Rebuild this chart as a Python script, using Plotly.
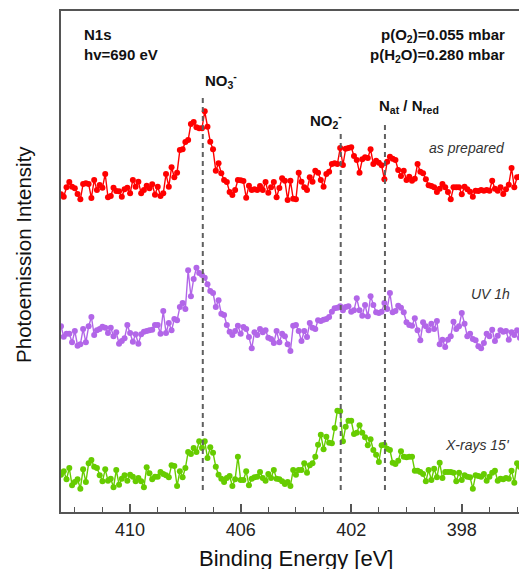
import numpy as np
import plotly.graph_objects as go

# N1s spectra, binding-energy grid starts at 412.5 eV and steps down by 0.1 eV
BE_START = 412.5
BE_STEP = 0.1

# Intensities (arb. units, already vertically stacked for display)
as_prepared = [
    317.7, 315.3, 324.7, 330.0, 325.3, 323.7, 318.0, 312.7, 328.0, 328.7,
    328.0, 314.0, 332.0, 322.0, 327.0, 324.3, 338.0, 314.7, 316.0, 324.3,
    321.0, 320.7, 315.3, 322.7, 324.3, 318.7, 332.0, 325.3, 330.3, 318.7,
    322.0, 326.3, 323.7, 327.7, 317.3, 325.3, 316.0, 318.7, 338.0, 325.3,
    344.7, 334.7, 339.3, 362.0, 362.7, 370.0, 372.0, 388.0, 390.0, 384.7,
    383.7, 383.7, 400.7, 385.3, 370.3, 362.7, 341.3, 348.7, 338.7, 332.0,
    330.0, 320.0, 317.0, 322.0, 332.0, 331.7, 331.0, 314.3, 326.3, 322.0,
    322.7, 322.0, 326.0, 322.0, 330.0, 319.3, 324.7, 330.0, 314.7, 324.0,
    333.7, 331.3, 312.0, 331.3,
    313.3, 312.7, 339.3, 330.3, 324.7, 322.0, 334.7, 330.3, 341.3, 339.3,
    332.0, 325.3, 338.0, 340.3, 348.0, 348.7, 348.0, 364.0, 347.0, 363.3,
    364.0, 364.7, 356.0, 352.0, 339.3, 352.7, 354.7, 354.0, 362.7, 348.0,
    351.3, 349.3, 346.7, 332.7, 350.3, 355.3, 353.3, 352.0, 342.0, 336.0,
    341.3, 332.0, 335.3, 331.3, 333.3, 348.0, 340.3, 338.7, 332.7, 326.7,
    326.0, 324.7, 320.0, 323.3, 328.0, 324.7, 320.0, 312.7, 324.7, 324.7,
    324.7, 317.7, 325.3, 322.7, 320.3, 315.3, 321.3, 321.0, 322.0, 321.3,
    322.0, 321.3, 331.3, 323.3, 321.3, 324.7, 318.0, 322.7, 327.3, 344.0,
    324.7, 334.7, 335.3, 324.7, 332.0,
]

uv_1h = [
    185.7, 175.3, 178.3, 178.3, 169.7, 181.0, 166.3, 167.7, 183.0, 169.7,
    185.7, 195.0, 177.0, 181.7, 183.0, 185.3, 184.3, 179.0, 184.3, 175.7,
    179.7, 168.3, 171.0, 173.7, 187.0, 179.0, 170.3, 177.7, 168.3, 177.7,
    180.3, 181.0, 181.7, 182.3, 187.0, 187.0, 178.3, 201.0, 179.0, 189.0,
    181.7, 193.0, 191.7, 205.0, 209.0, 203.0, 241.7, 215.7, 233.0, 244.3,
    239.0, 237.0, 234.3, 227.7, 221.0, 219.0, 205.0, 211.7, 198.3, 197.0,
    187.0, 180.3, 177.0, 181.0, 186.3, 178.3, 185.0, 183.0, 175.0, 163.7,
    179.7, 177.0, 183.0, 179.7, 181.7, 174.3, 173.0, 169.0, 181.0, 169.7,
    178.3, 175.7, 167.7, 161.0,
    186.3, 187.0, 181.0, 171.0, 181.0, 175.0, 189.0, 184.3, 183.0, 191.7,
    191.0, 192.3, 193.0, 195.0, 200.3, 203.7, 204.3, 205.7, 201.7, 205.0,
    205.7, 200.3, 201.7, 213.7, 201.7, 196.3, 207.0, 195.7, 215.7, 207.0,
    199.7, 199.0, 200.3, 209.0, 203.0, 219.0, 199.7, 201.0, 206.3, 204.3,
    199.7, 189.7, 187.0, 186.3, 193.7, 181.7, 171.7, 189.7, 185.7, 181.7,
    188.3, 183.0, 191.0, 167.7, 172.3, 165.0, 172.3, 175.7, 190.3, 183.0,
    185.7, 199.0, 188.3, 175.7, 178.3, 173.0, 171.7, 165.7, 163.7, 169.0,
    178.3, 175.7, 182.3, 171.0, 176.3, 181.7, 180.3, 181.0, 172.3, 179.7,
    177.0, 181.7, 174.3, 181.0, 179.7,
]

xrays_15 = [
    37.3, 40.7, 32.7, 44.0, 26.7, 30.0, 32.7, 23.3, 42.7, 30.0,
    48.7, 52.0, 45.3, 44.0, 36.7, 30.7, 42.7, 31.3, 33.3, 24.7,
    42.0, 27.3, 33.3, 36.7, 31.3, 37.3, 35.3, 30.7, 34.0, 30.7,
    24.7, 44.7, 38.7, 32.7, 35.3, 35.3, 40.0, 38.0, 36.7, 34.7,
    46.7, 46.0, 26.0, 40.7, 34.7, 44.0, 60.0, 58.0, 64.0, 60.0,
    70.7, 64.0, 70.7, 54.0, 64.7, 59.3, 45.3, 37.3, 33.3, 30.0,
    34.0, 36.0, 26.0, 32.7, 55.3, 32.0, 32.0, 40.7, 26.7, 33.3,
    34.7, 35.3, 40.0, 34.0, 31.3, 38.0, 34.0, 42.0, 33.3, 32.7,
    30.7, 28.0, 30.0, 26.0,
    42.0, 37.3, 42.0, 42.0, 48.7, 39.3, 46.7, 48.7, 55.3, 67.3,
    77.3, 62.7, 75.3, 69.3, 68.7, 84.0, 101.3, 100.7, 70.7, 85.3,
    91.3, 91.3, 78.0, 79.3, 86.7, 79.3, 74.7, 66.7, 72.7, 62.0,
    57.3, 50.0, 66.7, 67.3, 63.3, 62.0, 49.3, 48.0, 51.3, 60.7,
    55.3, 54.7, 55.3, 55.3, 41.3, 41.3, 40.0, 38.0, 30.7, 42.0,
    32.0, 43.3, 34.7, 49.3, 34.0, 40.0, 40.0, 40.0, 39.3, 30.7,
    39.3, 32.0, 36.7, 35.3, 34.7, 23.3, 36.7, 36.0, 35.3, 38.0,
    31.3, 35.3, 39.3, 41.3, 31.3, 33.3, 32.7, 34.0, 33.3, 41.3,
    29.3, 48.7, 45.3, 24.0,
]

series_names = ["as prepared", "UV 1h", "X-rays 15'"]
series_values = [as_prepared, uv_1h, xrays_15]
series_colors = ["#ff0000", "#b266e8", "#66cc00"]
series_label_y = [364, 218, 67]
series_label_x = [396.37, 396.19, 396.19]

# Component positions (eV) marked with dashed guides
peak_names = ["NO<sub>3</sub><sup>-</sup>", "NO<sub>2</sub><sup>-</sup>", "N<sub>at</sub> / N<sub>red</sub>"]
peak_positions = [407.37, 402.38, 400.78]
peak_line_tops = [418, 379, 390]

x_ticks = [410, 406, 402, 398]

FONT = "Liberation Sans, Arial, sans-serif"
AXIS_COLOR = "#555555"

fig = go.Figure()

for name, vals, color in zip(series_names, series_values, series_colors):
    be = BE_START - BE_STEP * np.arange(len(vals))
    fig.add_trace(go.Scatter(
        x=be, y=vals, name=name, mode="lines+markers",
        line=dict(color=color, width=1.4),
        marker=dict(color=color, size=6),
        showlegend=False,
    ))

# dashed guide lines for the N species
for pos, top in zip(peak_positions, peak_line_tops):
    fig.add_shape(type="line", xref="x", yref="y", x0=pos, x1=pos, y0=22, y1=top,
                  line=dict(color="#606060", width=2, dash="5px,4px"))

annotations = [
    dict(x=411.75, y=468, text="<b>N1s<br>hv=690 eV</b>", xanchor="left", align="left"),
    dict(x=396.37, y=477, text="<b>p(O<sub>2</sub>)=0.055 mbar</b>", xanchor="right"),
    dict(x=396.37, y=457, text="<b>p(H<sub>2</sub>O)=0.280 mbar</b>", xanchor="right"),
    dict(x=407.36, y=432, text="<b>" + peak_names[0] + "</b>", xanchor="left"),
    dict(x=402.26, y=392, text="<b>" + peak_names[1] + "</b>", xanchor="right"),
    dict(x=401.05, y=406, text="<b>" + peak_names[2] + "</b>", xanchor="left"),
]
for a in annotations:
    a.update(xref="x", yref="y", yanchor="middle", showarrow=False,
             font=dict(family=FONT, size=15, color="#111111"))
    fig.add_annotation(**a)

for name, lx, ly in zip(series_names, series_label_x, series_label_y):
    fig.add_annotation(x=lx, y=ly, xref="x", yref="y", text="<i>" + name + "</i>",
                       xanchor="right", yanchor="middle", showarrow=False,
                       font=dict(family=FONT, size=14, color="#333333"))

# axis titles
fig.add_annotation(x=0.513, y=-0.092, xref="paper", yref="paper",
                   text="Binding Energy [eV]", showarrow=False,
                   xanchor="center", yanchor="middle",
                   font=dict(family=FONT, size=22, color="#111111"))
fig.add_annotation(x=-0.081, y=0.515, xref="paper", yref="paper",
                   text="Photoemission Intensity", showarrow=False, textangle=-90,
                   xanchor="center", yanchor="middle",
                   font=dict(family=FONT, size=20.5, color="#111111"))

fig.update_layout(
    width=519, height=569,
    margin=dict(l=61, r=0, t=11, b=57),
    paper_bgcolor="white", plot_bgcolor="white",
    font=dict(family=FONT),
    xaxis=dict(
        range=[412.5, 395.93], showgrid=False, zeroline=False,
        showline=True, linecolor=AXIS_COLOR, linewidth=2, mirror=True,
        tickmode="array", tickvals=x_ticks, ticktext=[str(t) for t in x_ticks],
        ticks="inside", ticklen=8, tickwidth=1.5, tickcolor=AXIS_COLOR,
        minor=dict(dtick=1, tick0=410, ticks="inside", ticklen=5, tickwidth=1.2, tickcolor=AXIS_COLOR),
        tickfont=dict(family=FONT, size=18, color="#222222"),
    ),
    yaxis=dict(
        range=[0, 501], showgrid=False, zeroline=False,
        showline=True, linecolor=AXIS_COLOR, linewidth=2,
        showticklabels=False, ticks="",
    ),
)

fig.write_html("out.html")
